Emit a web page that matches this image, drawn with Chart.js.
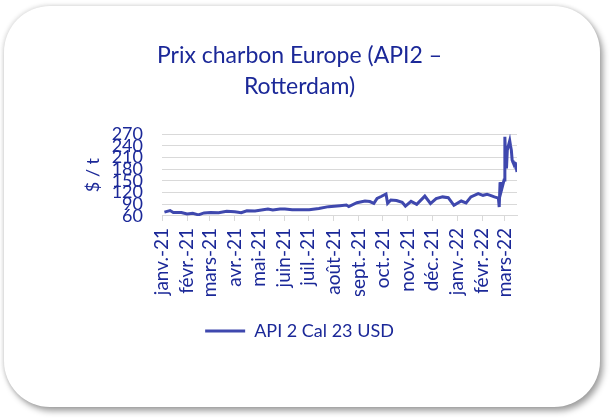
<!DOCTYPE html>
<html lang="fr">
<head>
<meta charset="utf-8">
<title>Prix charbon Europe</title>
<script src="https://cdn.jsdelivr.net/npm/chart.js@4/dist/chart.umd.min.js"></script>
<style>
  html, body { margin: 0; padding: 0; background: #fff; }
  body { width: 611px; height: 420px; position: relative; overflow: hidden; }
  .card {
    position: absolute; left: 4px; top: 6px; width: 596px; height: 401px;
    background: #fff; border-radius: 46px;
    box-shadow: 3px 4px 6px rgba(0,0,0,0.38), -1px -1px 4px rgba(0,0,0,0.12);
  }
  .wrap { position: absolute; left: 0; top: 0; width: 611px; height: 420px; }
</style>
</head>
<body>
<div class="card"></div>
<div class="wrap"><canvas id="coal-chart"></canvas></div>

<script>
//
// DATA
//
var dates = [
  '2021-01-04','2021-01-11','2021-01-15','2021-01-25','2021-02-01','2021-02-08',
  '2021-02-15','2021-02-22','2021-03-02','2021-03-12','2021-03-22','2021-04-01',
  '2021-04-09','2021-04-16','2021-04-26','2021-05-04','2021-05-12','2021-05-18',
  '2021-05-27','2021-06-02','2021-06-11','2021-07-02','2021-07-14','2021-07-26',
  '2021-08-09','2021-08-17','2021-08-20','2021-08-30','2021-09-09','2021-09-15',
  '2021-09-20','2021-09-24','2021-09-29','2021-10-05','2021-10-07','2021-10-11',
  '2021-10-18','2021-10-25','2021-10-29','2021-11-05','2021-11-12','2021-11-22',
  '2021-11-29','2021-12-06','2021-12-14','2021-12-21','2021-12-28','2022-01-06',
  '2022-01-12','2022-01-18','2022-01-27','2022-02-02','2022-02-07','2022-02-11',
  '2022-02-16','2022-02-21','2022-02-22','2022-02-23','2022-02-24','2022-02-25',
  '2022-02-28','2022-03-01','2022-03-02','2022-03-03','2022-03-04','2022-03-07',
  '2022-03-08','2022-03-09','2022-03-10','2022-03-11','2022-03-14','2022-03-15',
  '2022-03-16'
]

var prices = [
  70, 74, 69, 69, 65, 67,
  63, 68, 69, 68.5, 72, 71,
  68.5, 73.5, 73, 75.5, 78, 75.5,
  78, 78, 76, 76, 79.5, 84,
  86.5, 88, 84, 94, 98.5, 97,
  92.5, 105, 110, 116.5, 92.5, 101,
  99.5, 95, 85.5, 97.5, 90, 111,
  92, 104.5, 109, 107, 87.5, 98.5,
  93.5, 109, 117.5, 113, 115.5, 113,
  109, 106, 83, 143, 147, 128,
  152, 263, 200, 182, 229, 253,
  240, 229, 203, 198, 195, 185,
  173
]

var monthLabels = ['janv.-21', 'févr.-21', 'mars-21', 'avr.-21', 'mai-21',
  'juin-21', 'juil.-21', 'août-21', 'sept.-21', 'oct.-21', 'nov.-21',
  'déc.-21', 'janv.-22', 'févr.-22', 'mars-22']

var yMin = 60
var yMax = 270
var yStep = 30

var seriesName = 'API 2 Cal 23 USD'

//
// HELPERS
//
var dayMs = 86400000
var origin = Date.UTC(2021, 0, 1)

function dayIndex(str) {
  let p = str.split('-')
  return (Date.UTC(+p[0], +p[1] - 1, +p[2]) - origin) / dayMs
}

var monthStarts = monthLabels.map((l, i) => (Date.UTC(2021, i, 1) - origin) / dayMs)
var points = dates.map((d, i) => ({ x: dayIndex(d), y: prices[i] }))

var navy = '#1b2898'
var lineBlue = '#3f48ae'
var gridGrey = '#d9d9d9'
var font = 'Lato'

//
// CHART
//
var coalChart = new Chart(document.getElementById('coal-chart'), {
  type: 'line',
  data: {
    datasets: [{
      label: seriesName,
      data: points,
      borderColor: lineBlue,
      backgroundColor: lineBlue,
      borderWidth: 3,
      pointRadius: 0,
      tension: 0,
      fill: false
    }]
  },
  options: {
    responsive: true,
    maintainAspectRatio: false,
    animation: false,
    layout: {
      padding: { left: 82, right: 94, top: 0, bottom: 70 }
    },
    plugins: {
      title: {
        display: true,
        text: ['Prix charbon Europe (API2 –', 'Rotterdam)'],
        color: navy,
        font: { family: font, size: 23, weight: 'normal', lineHeight: 1.35 },
        padding: { top: 40, bottom: 32 }
      },
      legend: {
        position: 'bottom',
        labels: {
          color: navy,
          font: { family: font, size: 18 },
          usePointStyle: true,
          pointStyle: 'line',
          pointStyleWidth: 40,
          padding: 26
        }
      },
      tooltip: { enabled: false }
    },
    scales: {
      x: {
        type: 'linear',
        min: 0,
        max: dayIndex(dates[dates.length - 1]),
        afterBuildTicks: function(scale) {
          scale.ticks = monthStarts.map(v => ({ value: v }))
        },
        afterFit: function(scale) {
          scale.height = 80
        },
        ticks: {
          autoSkip: false,
          minRotation: 90,
          maxRotation: 90,
          padding: 7,
          color: navy,
          font: { family: font, size: 19 },
          callback: function(v) {
            let i = monthStarts.indexOf(v)
            return i >= 0 ? monthLabels[i] : ''
          }
        },
        grid: {
          drawOnChartArea: false,
          drawTicks: true,
          tickLength: 5,
          color: gridGrey
        },
        border: { color: gridGrey }
      },
      y: {
        min: yMin,
        max: yMax,
        afterFit: function(scale) {
          scale.width = 80
        },
        ticks: {
          stepSize: yStep,
          autoSkip: false,
          padding: 19,
          color: navy,
          font: { family: font, size: 18 }
        },
        grid: {
          color: gridGrey,
          drawTicks: false
        },
        border: { display: false },
        title: {
          display: true,
          text: '$ / t',
          color: navy,
          font: { family: font, size: 18 },
          padding: { top: 0, bottom: 10 }
        }
      }
    }
  }
})
</script>
</body>
</html>
